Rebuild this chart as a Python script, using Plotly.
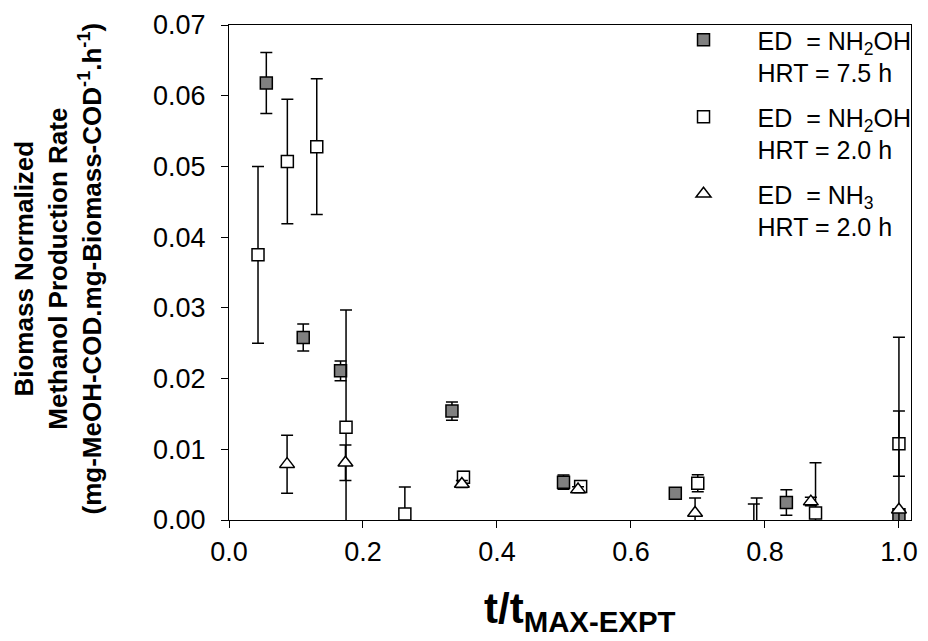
import plotly.graph_objects as go

# Electron donor NH2OH, HRT = 7.5 h
x_nh2oh_75 = [0.0557, 0.1108, 0.1665, 0.3328, 0.4993, 0.6662, 0.8320, 1.0000]
y_nh2oh_75 = [0.0618, 0.0258, 0.0211, 0.0154, 0.00535, 0.0038, 0.00248, 0.00075]
e_nh2oh_75 = [0.0043, 0.0019, 0.0014, 0.0013, 0.0010, 0.0, 0.0018, 0.0]

# Electron donor NH2OH, HRT = 2.0 h
x_nh2oh_20 = [0.0433, 0.0871, 0.1310, 0.1747, 0.2625, 0.3500, 0.5249, 0.6997, 0.7877, 0.8755, 1.0000]
y_nh2oh_20 = [0.0375, 0.0507, 0.0528, 0.0131, 0.00085, 0.00605, 0.00474, 0.0052, -0.0015, 0.0010, 0.0108]
e_nh2oh_20 = [0.0125, 0.0088, 0.0096, 0.0166, 0.0038, 0.0008, 0.0007, 0.0012, 0.0046, 0.0071, 0.0046]

# Electron donor NH3, HRT = 2.0 h
x_nh3_20 = [0.0867, 0.1738, 0.3476, 0.5210, 0.6957, 0.7834, 0.8685, 1.0000]
y_nh3_20 = [0.0079, 0.0081, 0.0051, 0.0043, 0.0010, -0.0015, 0.0026, 0.00145]
e_nh3_20 = [0.0041, 0.0025, 0.0005, 0.0004, 0.0021, 0.00375, 0.0006, 0.0244]

x_ticks = [0.0, 0.2, 0.4, 0.6, 0.8, 1.0]
y_ticks = [0.00, 0.01, 0.02, 0.03, 0.04, 0.05, 0.06, 0.07]

names = [
    "ED  = NH<sub>2</sub>OH<br>HRT = 7.5 h",
    "ED  = NH<sub>2</sub>OH<br>HRT = 2.0 h",
    "ED  = NH<sub>3</sub><br>HRT = 2.0 h",
]

FONT = "Liberation Sans, Arial, sans-serif"


def err(values):
    return dict(type="data", array=values, visible=True, color="black",
                thickness=1.5, width=6)


fig = go.Figure()
fig.add_trace(go.Scatter(
    x=x_nh2oh_75, y=y_nh2oh_75, mode="markers", name=names[0],
    marker=dict(symbol="square", size=12, color="#808080",
                line=dict(color="black", width=1.5)),
    error_y=err(e_nh2oh_75), cliponaxis=True, legendgroup="a"))
fig.add_trace(go.Scatter(
    x=x_nh2oh_20, y=y_nh2oh_20, mode="markers", name=names[1],
    marker=dict(symbol="square", size=12, color="white",
                line=dict(color="black", width=1.5)),
    error_y=err(e_nh2oh_20), cliponaxis=True, legendgroup="b"))
fig.add_trace(go.Scatter(
    x=x_nh3_20, y=y_nh3_20, mode="markers", name=names[2],
    marker=dict(symbol="triangle-up", size=13, color="white",
                line=dict(color="black", width=1.5)),
    error_y=err(e_nh3_20), cliponaxis=True, legendgroup="c"))

axis_common = dict(
    showline=True, linecolor="black", linewidth=1.3, mirror=True,
    ticks="outside", ticklen=7, tickwidth=1.3, tickcolor="black",
    showgrid=False, zeroline=False,
    tickfont=dict(family=FONT, size=27, color="black"),
)

fig.update_layout(
    width=928, height=641,
    margin=dict(l=229, r=10, t=23, b=121),
    paper_bgcolor="white", plot_bgcolor="white",
    xaxis=dict(range=[0, 1.018], tickvals=x_ticks,
               ticktext=[f"{v:.1f}" for v in x_ticks], **axis_common),
    yaxis=dict(range=[0, 0.07], tickvals=y_ticks, ticklabelstandoff=10,
               ticktext=[f"{v:.2f}" for v in y_ticks], **axis_common),
    legend=dict(x=0.6166, y=1.016, xanchor="left", yanchor="top",
                bgcolor="rgba(0,0,0,0)", borderwidth=0, valign="top",
                font=dict(family=FONT, size=25, color="black"),
                tracegroupgap=9, itemwidth=98),
    showlegend=True,
)

fig.add_annotation(
    xref="paper", yref="paper", x=-0.251, y=0.5077,
    xanchor="center", yanchor="middle", textangle=-90, showarrow=False,
    text=("<b>Biomass Normalized<br>Methanol Production Rate<br>"
          "(mg-MeOH-COD.mg-Biomass-COD<sup>-1</sup>.h<sup>-1</sup>)</b>"),
    font=dict(family=FONT, size=26, color="black"),
)
fig.add_annotation(
    xref="paper", yref="paper", x=0.515, y=-0.1845,
    xanchor="center", yanchor="middle", showarrow=False,
    text="<b>t/t<sub>MAX-EXPT</sub></b>",
    font=dict(family=FONT, size=42, color="black"),
)

fig.write_html("out.html")
